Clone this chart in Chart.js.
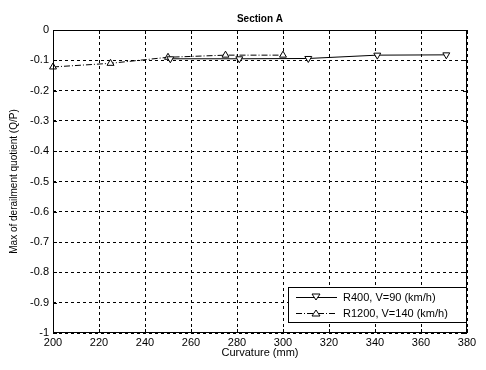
<!DOCTYPE html>
<html lang="en">
<head>
    <meta charset="UTF-8">
    <title>Section A</title>
    <script src="https://cdn.jsdelivr.net/npm/chart.js@4.4.1/dist/chart.umd.min.js"></script>
    <style>
        html, body { margin: 0; padding: 0; background: #fff; }
        #wrap { position: relative; width: 486px; height: 370px; }
    </style>
</head>
<body>
    <div id="wrap"><canvas id="chart" width="486" height="370"></canvas></div>
    <script>
        // Data
        const r400Curvature = [251, 281, 311, 341, 371];
        const r400Quotient = [-0.095, -0.095, -0.094, -0.083, -0.082];
        const r1200Curvature = [200, 225, 250, 275, 300];
        const r1200Quotient = [-0.122, -0.11, -0.09, -0.083, -0.083];
        const xTicks = [200, 220, 240, 260, 280, 300, 320, 340, 360, 380];
        const yTicks = [0, -0.1, -0.2, -0.3, -0.4, -0.5, -0.6, -0.7, -0.8, -0.9, -1];
        const seriesNames = ['R400, V=90 (km/h)', 'R1200, V=140 (km/h)'];

        const FONT = '"Liberation Sans", Arial, sans-serif';

        function toPoints(xs, ys) {
            return xs.map((x, i) => ({ x: x, y: ys[i] }));
        }

        // frame, inner ticks, titles and legend, MATLAB style
        const decor = {
            id: 'decor',
            afterDraw(chart) {
                const ctx = chart.ctx;
                const a = chart.chartArea;
                const xs = chart.scales.x, ys = chart.scales.y;
                ctx.save();
                ctx.strokeStyle = '#000';
                ctx.lineWidth = 1;
                ctx.setLineDash([]);
                ctx.strokeRect(a.left + 0.5, a.top + 0.5, a.right - a.left - 1, a.bottom - a.top - 1);
                ctx.beginPath();
                xTicks.forEach(v => {
                    const px = Math.round(xs.getPixelForValue(v)) + 0.5;
                    ctx.moveTo(px, a.bottom); ctx.lineTo(px, a.bottom - 4);
                    ctx.moveTo(px, a.top); ctx.lineTo(px, a.top + 4);
                });
                yTicks.forEach(v => {
                    const py = Math.round(ys.getPixelForValue(v)) + 0.5;
                    ctx.moveTo(a.left, py); ctx.lineTo(a.left + 4, py);
                    ctx.moveTo(a.right, py); ctx.lineTo(a.right - 4, py);
                });
                ctx.stroke();

                ctx.fillStyle = '#000';
                ctx.textAlign = 'center';
                ctx.textBaseline = 'middle';
                ctx.font = 'bold 10px ' + FONT;
                ctx.fillText('Section A', (a.left + a.right) / 2, 19);
                ctx.font = '11px ' + FONT;
                ctx.fillText('Curvature (mm)', (a.left + a.right) / 2, 353);
                ctx.font = '10px ' + FONT;
                ctx.save();
                ctx.translate(14, (a.top + a.bottom) / 2);
                ctx.rotate(-Math.PI / 2);
                ctx.fillText('Max of derailment quotient (Q/P)', 0, 0);
                ctx.restore();

                // legend box
                ctx.font = '11px ' + FONT;
                const bx = 288, by = 287, bw = a.right - 1 - bx, bh = 35;
                ctx.fillStyle = '#fff';
                ctx.fillRect(bx, by, bw, bh);
                ctx.strokeRect(bx + 0.5, by + 0.5, bw, bh);
                chart.data.datasets.forEach((ds, i) => {
                    const yy = by + 10 + i * 16;
                    ctx.setLineDash(ds.borderDash || []);
                    ctx.beginPath();
                    ctx.moveTo(296, yy + 0.5); ctx.lineTo(337, yy + 0.5);
                    ctx.stroke();
                    ctx.setLineDash([]);
                    ctx.beginPath();
                    const r = 4;
                    if (ds.pointRotation === 180) {
                        ctx.moveTo(316 - r, yy - r + 1); ctx.lineTo(316 + r, yy - r + 1); ctx.lineTo(316, yy + r - 1);
                    } else {
                        ctx.moveTo(316 - r, yy + r - 1); ctx.lineTo(316 + r, yy + r - 1); ctx.lineTo(316, yy - r + 1);
                    }
                    ctx.closePath();
                    ctx.fillStyle = '#fff';
                    ctx.fill();
                    ctx.stroke();
                    ctx.fillStyle = '#000';
                    ctx.textAlign = 'left';
                    ctx.fillText(ds.label, 343, yy + 1);
                });
                ctx.restore();
            }
        };

        new Chart(document.getElementById('chart'), {
            type: 'scatter',
            data: {
                datasets: [{
                    label: seriesNames[0],
                    data: toPoints(r400Curvature, r400Quotient),
                    showLine: true,
                    clip: false,
                    borderColor: '#000',
                    borderWidth: 1,
                    pointStyle: 'triangle',
                    pointRotation: 180,
                    pointRadius: 4,
                    pointBackgroundColor: '#fff',
                    pointBorderColor: '#000',
                    pointBorderWidth: 1
                }, {
                    label: seriesNames[1],
                    data: toPoints(r1200Curvature, r1200Quotient),
                    showLine: true,
                    clip: false,
                    borderColor: '#000',
                    borderWidth: 1,
                    borderDash: [6, 2, 1, 2],
                    pointStyle: 'triangle',
                    pointRotation: 0,
                    pointRadius: 4,
                    pointBackgroundColor: '#fff',
                    pointBorderColor: '#000',
                    pointBorderWidth: 1
                }]
            },
            options: {
                responsive: false,
                animation: false,
                layout: { padding: { top: 30, right: 19, left: 0, bottom: 0 } },
                plugins: {
                    legend: { display: false },
                    tooltip: { enabled: false }
                },
                scales: {
                    x: {
                        type: 'linear',
                        min: 200,
                        max: 380,
                        afterFit(s) { s.height = 37; },
                        afterBuildTicks(s) { s.ticks = xTicks.map(v => ({ value: v })); },
                        grid: {
                            color: '#000',
                            drawTicks: false,
                            lineWidth: 1
                        },
                        border: { display: false, dash: [3, 3] },
                        ticks: {
                            color: '#000',
                            padding: 3,
                            maxRotation: 0,
                            font: { family: FONT, size: 11 }
                        }
                    },
                    y: {
                        type: 'linear',
                        min: -1,
                        max: 0,
                        afterFit(s) { s.width = 53; },
                        afterBuildTicks(s) { s.ticks = yTicks.map(v => ({ value: v })); },
                        grid: {
                            color: '#000',
                            drawTicks: false,
                            lineWidth: 1
                        },
                        border: { display: false, dash: [3, 3] },
                        ticks: {
                            color: '#000',
                            padding: 4,
                            font: { family: FONT, size: 11 },
                            callback: v => (Math.round(v * 10) / 10).toString()
                        }
                    }
                }
            },
            plugins: [decor]
        });
    </script>
</body>
</html>
